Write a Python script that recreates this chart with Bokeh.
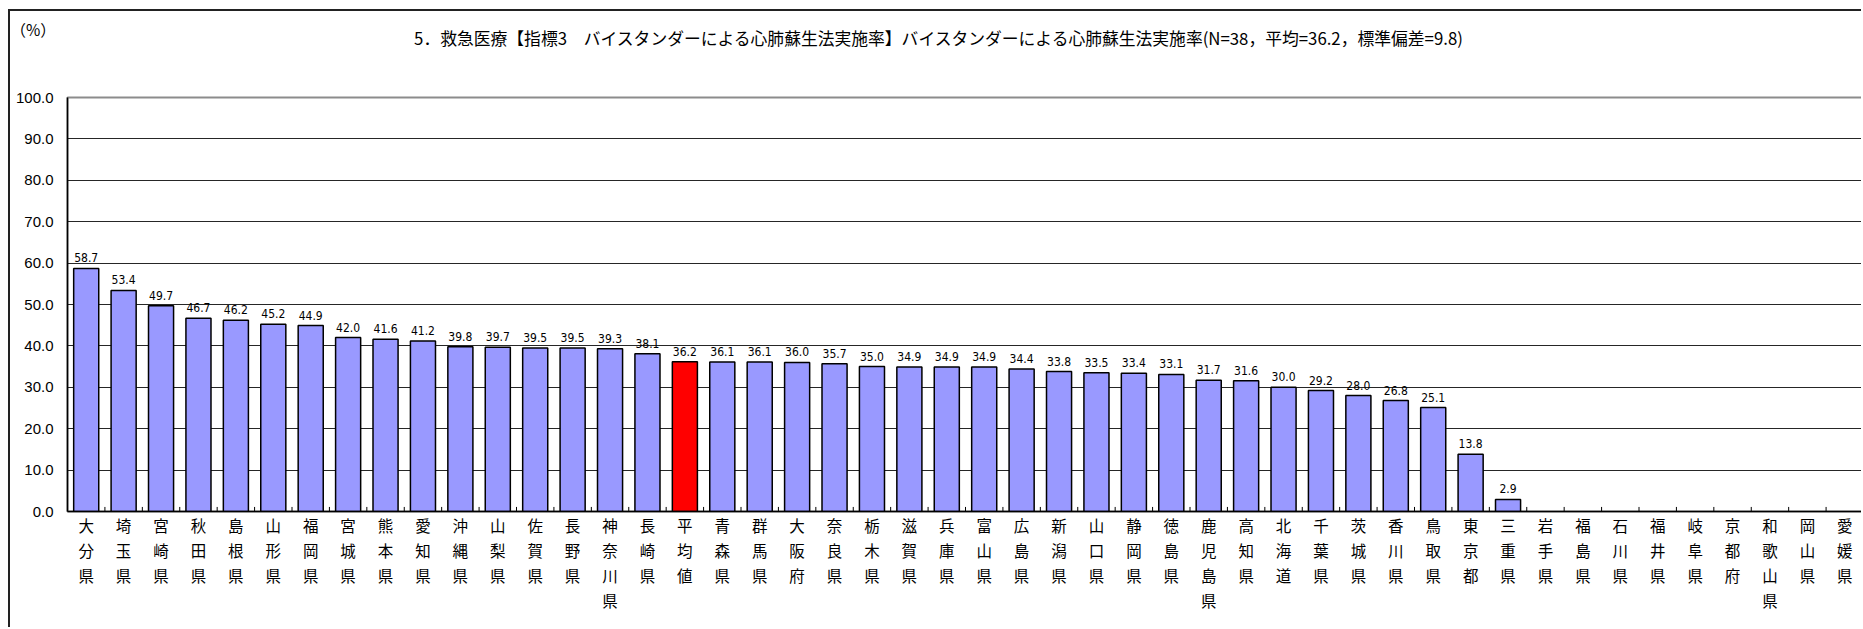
from bokeh.plotting import figure
from bokeh.models import ColumnDataSource, FixedTicker, Label, Range1d, PrintfTickFormatter
from bokeh.core.properties import value
from bokeh.embed import file_html
from bokeh.resources import INLINE

# ---------------- data ----------------
prefectures = ["大分県", "埼玉県", "宮崎県", "秋田県", "島根県", "山形県", "福岡県", "宮城県",
               "熊本県", "愛知県", "沖縄県", "山梨県", "佐賀県", "長野県", "神奈川県", "長崎県",
               "平均値", "青森県", "群馬県", "大阪府", "奈良県", "栃木県", "滋賀県", "兵庫県",
               "富山県", "広島県", "新潟県", "山口県", "静岡県", "徳島県", "鹿児島県", "高知県",
               "北海道", "千葉県", "茨城県", "香川県", "鳥取県", "東京都", "三重県", "岩手県",
               "福島県", "石川県", "福井県", "岐阜県", "京都府", "和歌山県", "岡山県", "愛媛県"]
rates = [58.7, 53.4, 49.7, 46.7, 46.2, 45.2, 44.9, 42.0,
         41.6, 41.2, 39.8, 39.7, 39.5, 39.5, 39.3, 38.1,
         36.2, 36.1, 36.1, 36.0, 35.7, 35.0, 34.9, 34.9,
         34.9, 34.4, 33.8, 33.5, 33.4, 33.1, 31.7, 31.6,
         30.0, 29.2, 28.0, 26.8, 25.1, 13.8, 2.9, None,
         None, None, None, None, None, None, None, None]
average_label = "平均値"
y_ticks = [0, 10, 20, 30, 40, 50, 60, 70, 80, 90, 100]
title_text = "5．救急医療【指標3　バイスタンダーによる心肺蘇生法実施率】バイスタンダーによる心肺蘇生法実施率(N=38，平均=36.2，標準偏差=9.8)"
unit_text = "（%）"

BAR_COLOR = "#9999FF"
AVG_COLOR = "#FF0000"
CJK = "Noto Sans CJK JP"
NUM_FONT = "Liberation Sans Narrow, DejaVu Sans Condensed, sans-serif"

# ---------------- build ----------------
n = len(prefectures)
xs, tops, colors, labels = [], [], [], []
for i, (name, v) in enumerate(zip(prefectures, rates)):
    if v is None:
        continue
    xs.append(i)
    tops.append(v)
    colors.append(AVG_COLOR if name == average_label else BAR_COLOR)
    labels.append(f"{v:.1f}")
src = ColumnDataSource(dict(x=xs, top=tops, color=colors, label=labels))

W, H = 1853, 618
p = figure(width=W, height=H, output_backend="svg", toolbar_location=None,
           x_range=Range1d(-0.5, n - 0.5), y_range=Range1d(y_ticks[0], y_ticks[-1]),
           min_border_left=57, min_border_right=0, min_border_top=86, min_border_bottom=118)
p.title.visible = False
# chart-area frame (left/top edges, the rest runs past the window like the reference)
p.styles = {"margin-left": "8px", "margin-top": "9px",
            "border-left": "2px solid #222", "border-top": "2px solid #222"}

p.outline_line_color = "#8c8c8c"
p.outline_line_width = 2
p.background_fill_color = "white"
p.border_fill_color = "white"

p.xgrid.grid_line_color = None
p.ygrid.ticker = FixedTicker(ticks=y_ticks[1:-1])
p.ygrid.grid_line_color = "#262626"
p.ygrid.grid_line_width = 1

p.vbar(x="x", top="top", width=0.67, fill_color="color", line_color="black",
       line_width=1.5, source=src)
p.text(x="x", y="top", text="label", text_align="center", text_baseline="bottom",
       y_offset=-6, text_font_size="12px", text_font=value(NUM_FONT),
       text_color="#000000", source=src)

# category boundary ticks (inside)
bounds = [i + 0.5 for i in range(-1, n)]
p.segment(x0=bounds, y0=[0] * len(bounds), x1=bounds, y1=[1.1] * len(bounds),
          line_color="black", line_width=1)

# x axis
xa = p.xaxis[0]
xa.ticker = FixedTicker(ticks=list(range(n)))
xa.major_label_overrides = {i: "\n".join(name) for i, name in enumerate(prefectures)}
xa.major_tick_line_color = None
xa.major_tick_out = 0
xa.major_tick_in = 0
xa.minor_tick_line_color = None
xa.axis_line_color = "black"
xa.axis_line_width = 1.5
xa.major_label_text_font = CJK
xa.major_label_text_font_size = "15.5px"
xa.major_label_text_color = "black"
xa.major_label_text_line_height = 1.15
xa.major_label_standoff = 2

# y axis
ya = p.yaxis[0]
ya.ticker = FixedTicker(ticks=y_ticks)
ya.formatter = PrintfTickFormatter(format="%.1f")
ya.major_tick_out = 0
ya.major_tick_in = 0
ya.minor_tick_line_color = None
ya.axis_line_color = "black"
ya.axis_line_width = 1.5
ya.major_label_text_font = "Liberation Sans"
ya.major_label_text_font_size = "15px"
ya.major_label_text_color = "black"
ya.major_label_standoff = 14

# texts above the plot frame, placed in the "above" side panel so they are not clipped
p.add_layout(Label(x=872, y=60, x_units="screen", y_units="screen", text=title_text,
                   text_align="center", text_baseline="middle", text_font=CJK,
                   text_font_size="16.8px", text_color="black"), "above")
p.add_layout(Label(x=-57, y=45, x_units="screen", y_units="screen", text=unit_text,
                   text_align="left", text_baseline="middle", text_font=CJK,
                   text_font_size="15.5px", text_color="black"), "above")

open("out.html", "w").write(file_html(p, INLINE))
